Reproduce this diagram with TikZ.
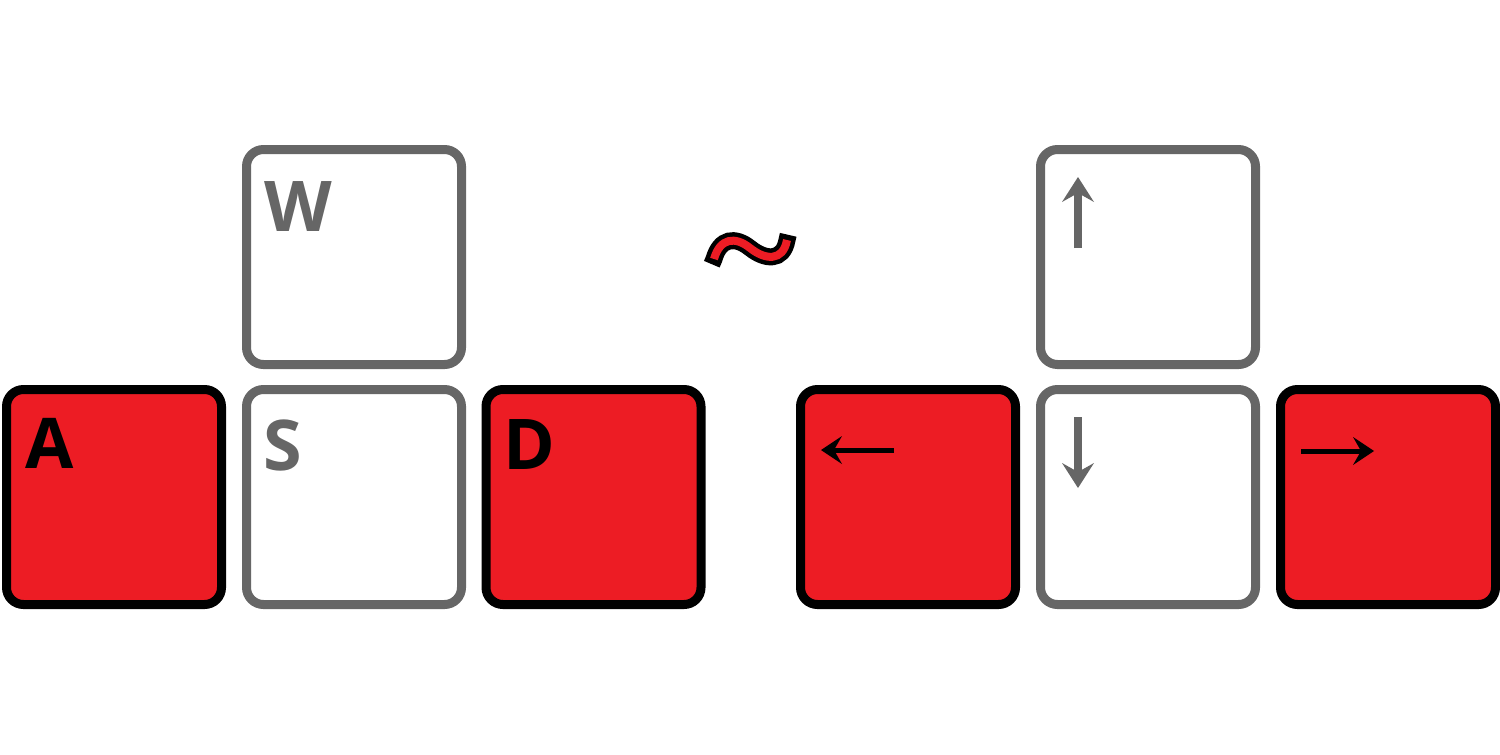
\documentclass[tikz,border=0pt]{standalone}
\usepackage{fontspec}
\setmainfont{Open Sans}
\usetikzlibrary{arrows.meta}
\definecolor{keyred}{HTML}{ED1C24}
\definecolor{keygray}{HTML}{666666}
\tikzset{
  keybase/.style={rectangle, rounded corners=17pt, line width=9pt, minimum width=215pt, minimum height=215pt, inner sep=0pt},
  redkey/.style={keybase, draw=black, fill=keyred},
  graykey/.style={keybase, draw=keygray, fill=white},
  keylabel/.style={anchor=base west, inner sep=0pt, font=\fontsize{70}{80}\selectfont\bfseries},
  redlabel/.style={keylabel, text=black},
  graylabel/.style={keylabel, text=keygray},
  blackarrow/.style={line width=5pt, draw=black, -{Stealth[length=21pt, width=28pt, inset=8pt, line width=0pt]}},
  grayarrow/.style={line width=8pt, draw=keygray, -{Stealth[length=25pt, width=32pt, inset=9pt, line width=0pt]}},
}
\begin{document}
\begin{tikzpicture}[x=1pt, y=-1pt]
\useasboundingbox (0,0) rectangle (1500,755);
% keys
\node[graykey] (W) at (354,257) {};
\node[redkey]  (A) at (114,497) {};
\node[graykey] (S) at (354,497) {};
\node[redkey]  (D) at (593.5,497) {};
\node[redkey]  (L) at (908,497) {};
\node[graykey] (U) at (1148,257) {};
\node[graykey] (Dn) at (1148,497) {};
\node[redkey]  (R) at (1388,497) {};
% letters
\node[graylabel] (tW) at (264,231) {W};
\node[redlabel]  (tA) at (25,468) {A};
\node[graylabel] (tS) at (263,470) {S};
\node[redlabel]  (tD) at (503,469) {D};
% arrow glyphs
\coordinate (l1) at (894,450); \coordinate (l2) at (821,450);
\coordinate (r1) at (1301,451); \coordinate (r2) at (1374,451);
\coordinate (u1) at (1078,248); \coordinate (u2) at (1078,177);
\coordinate (d1) at (1078,417); \coordinate (d2) at (1078,488);
\draw[blackarrow] (l1) -- (l2);
\draw[blackarrow] (r1) -- (r2);
\draw[grayarrow] (u1) -- (u2);
\draw[grayarrow] (d1) -- (d2);
% tilde
\draw[line width=17pt, black, line cap=butt]
  (711.8,264.2) -- (714,259) .. controls (720,238) and (735,236) .. (750,248)
  .. controls (765,260) and (783,262) .. (787,240) -- (788.2,234.8);
\draw[line width=8pt, keyred, line cap=butt]
  (714,259) .. controls (720,238) and (735,236) .. (750,248)
  .. controls (765,260) and (783,262) .. (787,240);
\end{tikzpicture}
\end{document}
